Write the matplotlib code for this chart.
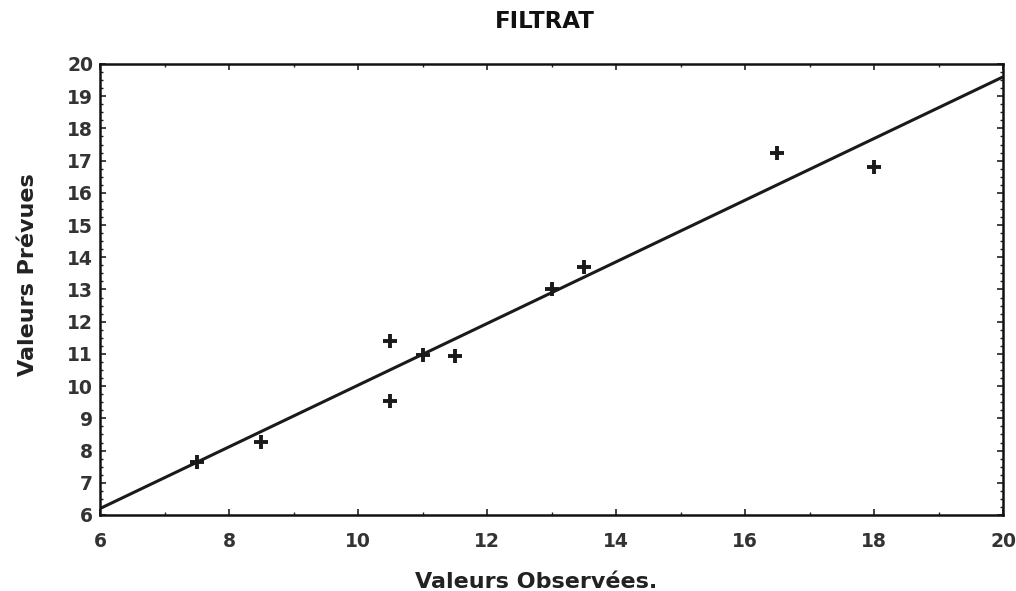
import matplotlib
matplotlib.use("Agg")
import matplotlib.pyplot as plt
from matplotlib.ticker import MultipleLocator

observed = [7.5, 8.5, 10.5, 10.5, 11.0, 11.5, 13.0, 13.5, 16.5, 18.0]
predicted = [7.65, 8.27, 11.4, 9.55, 10.97, 10.95, 13.02, 13.7, 17.24, 16.8]
fit_x = [6, 20]
fit_y = [6.2, 19.6]

title = "FILTRAT"
xlabel = "Valeurs Observées."
ylabel = "Valeurs Prévues"

plt.rcParams['font.family'] = ['DejaVu Sans']
plt.rcParams['font.weight'] = 'bold'

fig = plt.figure(figsize=(10.16, 5.91), dpi=100)
ax = fig.add_axes([100/1016, 1-515/591, 903/1016, 451/591])

ax.plot(fit_x, fit_y, color='#1a1a1a', lw=2.2, solid_capstyle='butt')
ax.plot(observed, predicted, linestyle='none', marker='+', markersize=10,
        markeredgewidth=2.8, color='#1a1a1a')

ax.set_xlim(6, 20)
ax.set_ylim(6, 20)
ax.xaxis.set_major_locator(MultipleLocator(2))
ax.xaxis.set_minor_locator(MultipleLocator(1))
ax.yaxis.set_major_locator(MultipleLocator(1))
ax.yaxis.set_minor_locator(MultipleLocator(0.25))
ax.tick_params(which='both', direction='in', top=True, right=True,
               color='#222222')
ax.tick_params(which='major', length=4, width=1.2, labelsize=13.5, pad=5)
ax.tick_params(which='minor', length=2.5, width=1.0)
ax.tick_params(axis='x', which='major', pad=12)
for lab in ax.get_xticklabels() + ax.get_yticklabels():
    lab.set_fontweight('bold')
    lab.set_color('#333333')
for s in ax.spines.values():
    s.set_linewidth(1.8)
    s.set_color('#111111')

fig.text(545/1016, 1-22/591, title, ha='center', va='center',
         fontsize=16.5, fontweight='bold', color='#111111')
fig.text(536/1016, 1-582/591, xlabel, ha='center', va='center',
         fontsize=16, fontweight='bold', color='#222222')
fig.text(28/1016, 1-275/591, ylabel, ha='center', va='center',
         rotation=90, fontsize=16, fontweight='bold', color='#222222')

fig.savefig("out.png", dpi=100, facecolor='white')
